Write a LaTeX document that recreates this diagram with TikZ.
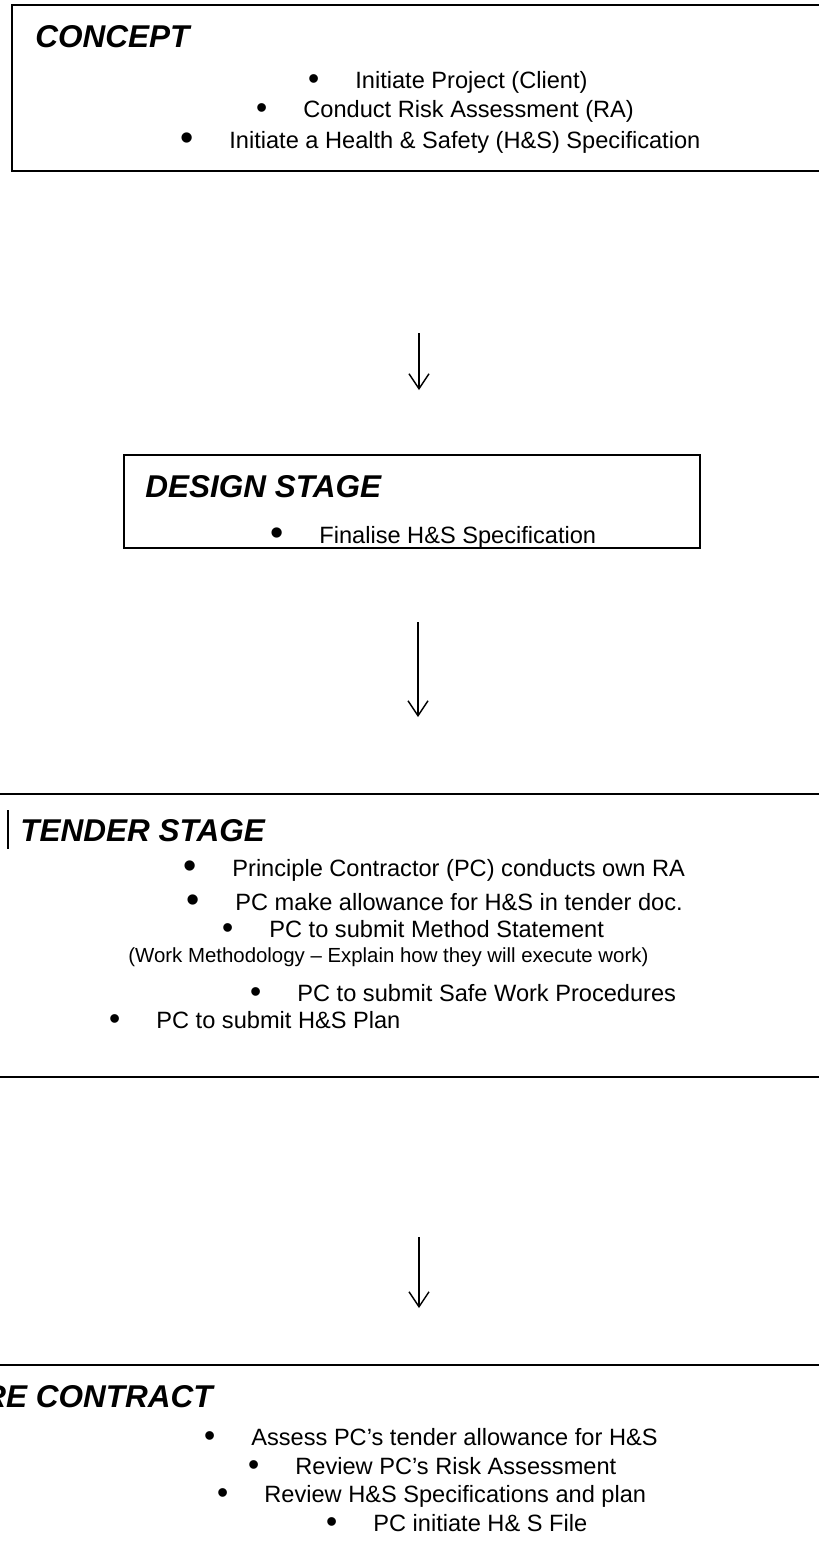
\documentclass[tikz,border=0pt]{standalone}
\usepackage{fontspec}
\setmainfont{Liberation Sans}
\usetikzlibrary{arrows.meta}
\tikzset{
  frame/.style={line width=1.1pt},
  head/.style={font=\bfseries\itshape\fontsize{15.75}{18}\selectfont, anchor=base west, inner sep=0pt},
  item/.style={font=\fontsize{11.8}{14}\selectfont, anchor=base west, inner sep=0pt},
  flow/.style={line width=0.7pt, -{Straight Barb[length=7.5pt,width=10pt,line width=0.7pt]}}
}
\newcommand{\bul}{\llap{\raisebox{-0.08em}{\scalebox{1.35}{\textbullet}}\hspace{18pt}}}
\newcommand{\bulL}{\llap{\raisebox{-0.12em}{\scalebox{1.6}{\textbullet}}\hspace{18pt}}}
\begin{document}
\begin{tikzpicture}[x=0.5pt,y=-0.5pt]
\useasboundingbox (0,0) rectangle (819,1564);
% CONCEPT
\draw[frame] (830,5) -| (12,171) -- (830,171);
\node[head] (concept) at (35,47) {CONCEPT};
\node[item] (c1) at (355,88) {\bul Initiate Project (Client)};
\node[item] (c2) at (303,117) {\bul Conduct Risk Assessment (RA)};
\node[item] (c3) at (229,148) {\bulL Initiate a Health \& Safety (H\&S) Specification};
\coordinate (a1s) at (419,333);
\coordinate (a1e) at (419,390);
\draw[flow] (a1s) -- (a1e);
% DESIGN
\draw[frame] (124,455) rectangle (700,548);
\node[head] (design) at (145,497) {DESIGN STAGE};
\node[item] (d1) at (319,543) {\bulL Finalise H\&S Specification};
\coordinate (a2s) at (418,622);
\coordinate (a2e) at (418,717);
\draw[flow] (a2s) -- (a2e);
% TENDER
\draw[frame] (-5,794) -- (830,794);
\draw[frame] (-5,1077) -- (830,1077);
\draw[frame] (8,810) -- (8,849);
\node[head] (tender) at (20,841) {TENDER STAGE};
\node[item] (t1) at (232,876) {\bulL Principle Contractor (PC) conducts own RA};
\node[item] (t2) at (235,910) {\bulL PC make allowance for H\&S in tender doc.};
\node[item] (t3) at (269,937) {\bul PC to submit Method Statement};
\node[item, font=\fontsize{10.2}{12}\selectfont] (t4) at (128,962) {(Work Methodology – Explain how they will execute work)};
\node[item] (t5) at (297,1001) {\bul PC to submit Safe Work Procedures};
\node[item] (t6) at (156,1028) {\bul PC to submit H\&S Plan};
\coordinate (a3s) at (419,1237);
\coordinate (a3e) at (419,1308);
\draw[flow] (a3s) -- (a3e);
% PRE CONTRACT
\draw[frame] (-5,1365) -- (830,1365);
\node[head] (pre) at (-38,1407) {PRE CONTRACT};
\node[item] (p1) at (251,1445) {\bul Assess PC’s tender allowance for H\&S};
\node[item] (p2) at (295,1474) {\bul Review PC’s Risk Assessment};
\node[item] (p3) at (264,1502) {\bul Review H\&S Specifications and plan};
\node[item] (p4) at (373,1531) {\bul PC initiate H\& S File};
\end{tikzpicture}
\end{document}
